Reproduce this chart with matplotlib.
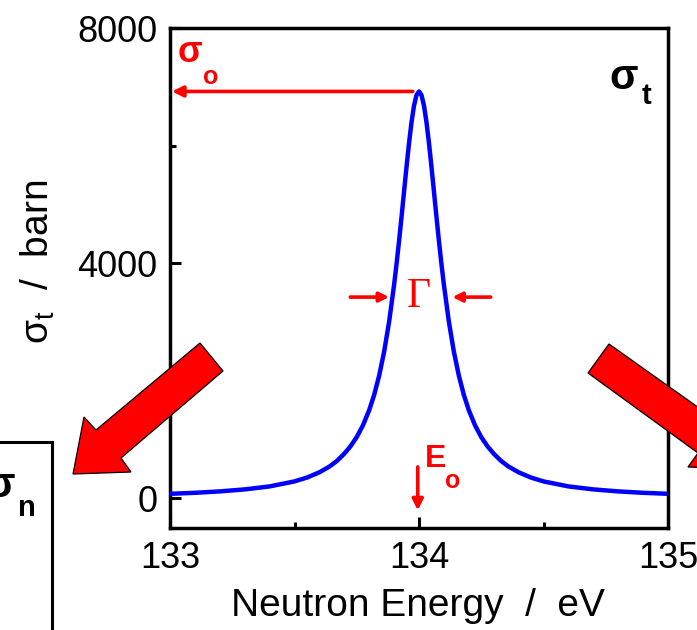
import matplotlib
matplotlib.use("Agg")
import matplotlib.pyplot as plt
from matplotlib.ticker import MultipleLocator, FixedLocator
from matplotlib.patches import Polygon

plt.rcParams['font.family'] = ['Liberation Sans', 'DejaVu Sans']
plt.rcParams['mathtext.fontset'] = 'custom'
plt.rcParams['mathtext.rm'] = 'Liberation Sans'
plt.rcParams['mathtext.it'] = 'Liberation Sans:italic'
plt.rcParams['mathtext.bf'] = 'Liberation Sans:bold'

# Total cross section across a single resonance
energy = [133.000, 133.100, 133.200, 133.300, 133.400, 133.500, 133.550,
          133.600, 133.640, 133.670, 133.700, 133.725, 133.750, 133.775,
          133.800, 133.820, 133.840, 133.860, 133.880, 133.900, 133.910,
          133.920, 133.930, 133.940, 133.950, 133.960, 133.970, 133.980,
          133.990,
          134.000,
          134.010, 134.020, 134.030, 134.040, 134.050, 134.060, 134.070,
          134.080, 134.090, 134.100, 134.120, 134.140, 134.160, 134.180,
          134.200, 134.225, 134.250, 134.275, 134.300, 134.330, 134.360,
          134.400, 134.450, 134.500, 134.600, 134.700, 134.800, 134.900,
          135.000]
sigma_t = [72, 89, 113, 147, 198, 283, 348,
           438, 535, 630, 755, 881, 1038, 1238,
           1495, 1757, 2083, 2491, 3001, 3629, 3989,
           4378, 4791, 5217, 5641, 6043, 6398, 6678,
           6858,
           6920,
           6858, 6678, 6398, 6043, 5641, 5217, 4791,
           4378, 3989, 3629, 3001, 2491, 2083, 1757,
           1495, 1238, 1038, 881, 755, 630, 535,
           438, 348, 283, 198, 147, 113, 89,
           72]

e0 = 134.0          # resonance energy
sigma0 = 6920       # peak cross section
x_ticks = [133, 134, 135]
y_ticks = [0, 4000, 8000]

W, H = 697, 630
fig = plt.figure(figsize=(W / 100, H / 100), dpi=100)


def px(x, y):
    return (x / W, 1 - y / H)


RED = '#ff0000'
BLUE = '#0000ff'

# neighbouring panel (sigma_n), only its corner shows
l2, t2 = px(52, 442)
ax2 = fig.add_axes([l2 - 0.8, t2 - 0.8, 0.8, 0.8])
ax2.set_xticks([])
ax2.set_yticks([])
ax2.spines['left'].set_visible(False)
ax2.spines['bottom'].set_visible(False)
for s in ('top', 'right'):
    ax2.spines[s].set_linewidth(2.2)
ax2.patch.set_alpha(0)

# main panel
left, top = px(170, 28)
right, bottom = px(668, 528)
ax = fig.add_axes([left, bottom, right - left, top - bottom])
ax.plot(energy, sigma_t, color=BLUE, lw=3.2, solid_capstyle='butt',
        solid_joinstyle='round', zorder=3)
ax.set_xlim(133, 135)
ax.set_ylim(-510, 8000)
ax.xaxis.set_major_locator(FixedLocator(x_ticks))
ax.yaxis.set_major_locator(FixedLocator(y_ticks))
ax.xaxis.set_minor_locator(MultipleLocator(0.5))
ax.yaxis.set_minor_locator(MultipleLocator(2000))
ax.set_xticklabels([str(v) for v in x_ticks])
ax.set_yticklabels([str(v) for v in y_ticks])
ax.tick_params(which='both', direction='in', top=False, right=False,
               width=2.2, labelsize=26, pad=9)
ax.tick_params(which='major', length=8)
ax.tick_params(which='minor', length=4)
for s in ax.spines.values():
    s.set_linewidth(2.5)

# sigma_0 arrow from the peak to the axis
ax.annotate('', xy=(133.008, sigma0), xytext=(133.975, sigma0),
            arrowprops=dict(arrowstyle='-|>', color=RED, lw=2.6,
                            mutation_scale=16, shrinkA=0, shrinkB=0))
# width arrows
half = sigma0 / 2 - 40
ax.annotate('', xy=(133.88, half), xytext=(133.724, half),
            arrowprops=dict(arrowstyle='-|>', color=RED, lw=2.6,
                            mutation_scale=14, shrinkA=0, shrinkB=0))
ax.annotate('', xy=(134.134, half), xytext=(134.288, half),
            arrowprops=dict(arrowstyle='-|>', color=RED, lw=2.6,
                            mutation_scale=14, shrinkA=0, shrinkB=0))
ax.text(e0, half, '\u0393', color=RED, family='Liberation Serif',
        fontsize=30, ha='center', va='center')
# resonance energy marker
ax.annotate('', xy=(e0 - 0.005, -210), xytext=(e0 - 0.005, 530),
            arrowprops=dict(arrowstyle='-|>', color=RED, lw=2.6,
                            mutation_scale=16, shrinkA=0, shrinkB=0))

# labels made of a symbol plus a lowered subscript
def label(x, y, main, sub, color, size, subsize, sx, sy, bold=True):
    fig.text(*px(x, y), main, color=color, fontsize=size,
             fontweight='bold' if bold else 'normal', ha='center', va='center')
    fig.text(*px(sx, sy), sub, color=color, fontsize=subsize,
             fontweight='bold', ha='center', va='center')


label(190, 53, '\u03c3', 'o', RED, 26, 18, 211, 77)
label(624, 78, '\u03c3', 't', 'black', 30, 21, 646, 96)
label(436, 459, 'E', 'o', RED, 23, 18, 453, 481)
label(1, 486, '\u03c3', 'n', 'black', 30, 21, 27, 508)

# axis titles
fig.text(*px(418, 606), 'Neutron Energy  /  eV', fontsize=28,
         ha='center', va='center')
fig.text(*px(38, 262), '$\\mathrm{\u03c3}_\\mathrm{t}$  /  barn', fontsize=28,
         rotation=90, ha='center', va='center')

# large pointer arrows to the neighbouring panels
arrow_left = [(200, 343), (223, 371), (121, 458), (131, 472), (73, 474),
              (84, 417), (96, 430)]
arrow_right = [(609, 344), (588, 373), (698, 453), (688, 467), (746, 469),
               (735, 412), (723, 425)]
for pts in (arrow_left, arrow_right):
    fig.add_artist(Polygon([px(*p) for p in pts], closed=True,
                           facecolor=RED, edgecolor='black', lw=0.9,
                           transform=fig.transFigure, zorder=5))

fig.savefig('out.png', dpi=100)
